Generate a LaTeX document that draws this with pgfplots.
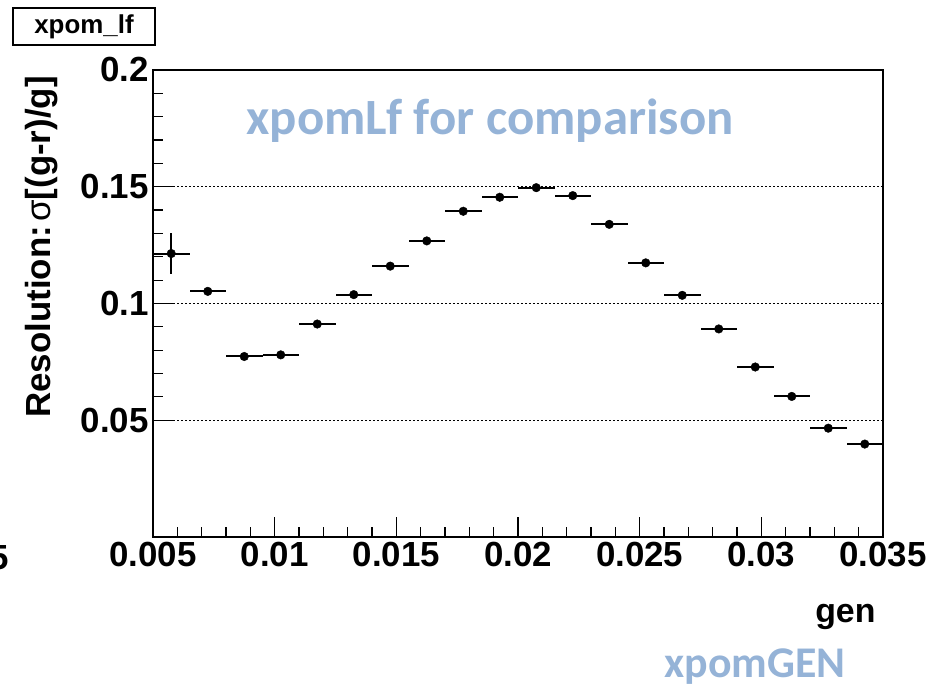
\documentclass[border=0pt]{standalone}
\usepackage{fontspec}
\setmainfont{Liberation Sans}
\newfontfamily\calibri{Carlito}
\usepackage{pgfplots}
\pgfplotsset{compat=1.18}
\definecolor{lblue}{RGB}{149,179,215}
\pgfplotstableread{
x        y       ex       ey
0.00575  0.1214  0.00075  0.0089
0.00725  0.1052  0.00075  0.0008
0.00875  0.0773  0.00075  0.0008
0.01025  0.0780  0.00075  0.0006
0.01175  0.0912  0.00075  0.0006
0.01325  0.1038  0.00075  0.0006
0.01475  0.1160  0.00075  0.0006
0.01625  0.1268  0.00075  0.0008
0.01775  0.1395  0.00075  0.0006
0.01925  0.1455  0.00075  0.0006
0.02075  0.1496  0.00075  0.0008
0.02225  0.1462  0.00075  0.0006
0.02375  0.1339  0.00075  0.0008
0.02525  0.1174  0.00075  0.0006
0.02675  0.1035  0.00075  0.0006
0.02825  0.0891  0.00075  0.0006
0.02975  0.0728  0.00075  0.0006
0.03125  0.0602  0.00075  0.0006
0.03275  0.0466  0.00075  0.0006
0.03425  0.0398  0.00075  0.0008
}\resdata
\begin{document}
\begin{tikzpicture}[x=1bp,y=1bp]
\useasboundingbox (0,0) rectangle (946,690);
\begin{axis}[
  at={(153bp,153bp)}, anchor=south west,
  scale only axis, width=730bp, height=467bp,
  xmin=0.005, xmax=0.035, ymin=0, ymax=0.2,
  scaled x ticks=false, scaled y ticks=false,
  xtick={0.005,0.01,0.015,0.02,0.025,0.03,0.035},
  xticklabels={0.005,0.01,0.015,0.02,0.025,0.03,0.035},
  ytick={0.05,0.1,0.15,0.2},
  yticklabels={0.05,0.1,0.15,0.2},
  minor x tick num=4, minor y tick num=4,
  tick align=inside, xtick pos=bottom, ytick pos=left,
  major tick length=20bp, minor tick length=10bp,
  tick style={black, line width=1.2bp},
  axis line style={black, line width=1.5bp},
  ymajorgrids=true,
  major grid style={black, dash pattern=on 2.2bp off 1.8bp, line width=1.3bp},
  x tick label style={font=\fontsize{35}{40}\selectfont\bfseries, yshift=-2bp},
  y tick label style={font=\fontsize{35}{40}\selectfont\bfseries, xshift=-1bp},
  clip=false,
]
\addplot[black, only marks, mark=*, mark size=4.3bp,
  error bars/.cd, x dir=both, x explicit, y dir=both, y explicit,
  error mark=none, error bar style={line width=2bp, black}]
  table[x=x, y=y, x error=ex, y error=ey]{\resdata};
\end{axis}
\node[anchor=base east, font=\fontsize{34}{40}\selectfont\bfseries] at (879,67) {gen};
\node[rotate=90, font=\fontsize{35}{40}\selectfont\bfseries] at (42,443) {Resolution:\hspace{0.12em}{\mdseries σ}[(g-r)/g]};
\draw[line width=1.3bp] (13,645) rectangle (155,682);
\node[font=\fontsize{26}{30}\selectfont\bfseries] at (84,663) {xpom\_lf};
\node[anchor=base, text=lblue, font=\calibri\fontsize{51}{58}\selectfont\bfseries] at (490,555) {xpomLf for comparison};
\node[anchor=base, text=lblue, font=\calibri\fontsize{44}{50}\selectfont\bfseries] at (755,12) {xpomGEN};
\node[anchor=base east, font=\fontsize{35}{40}\selectfont\bfseries, inner sep=0pt] at (9,120) {5};
\end{tikzpicture}
\end{document}
